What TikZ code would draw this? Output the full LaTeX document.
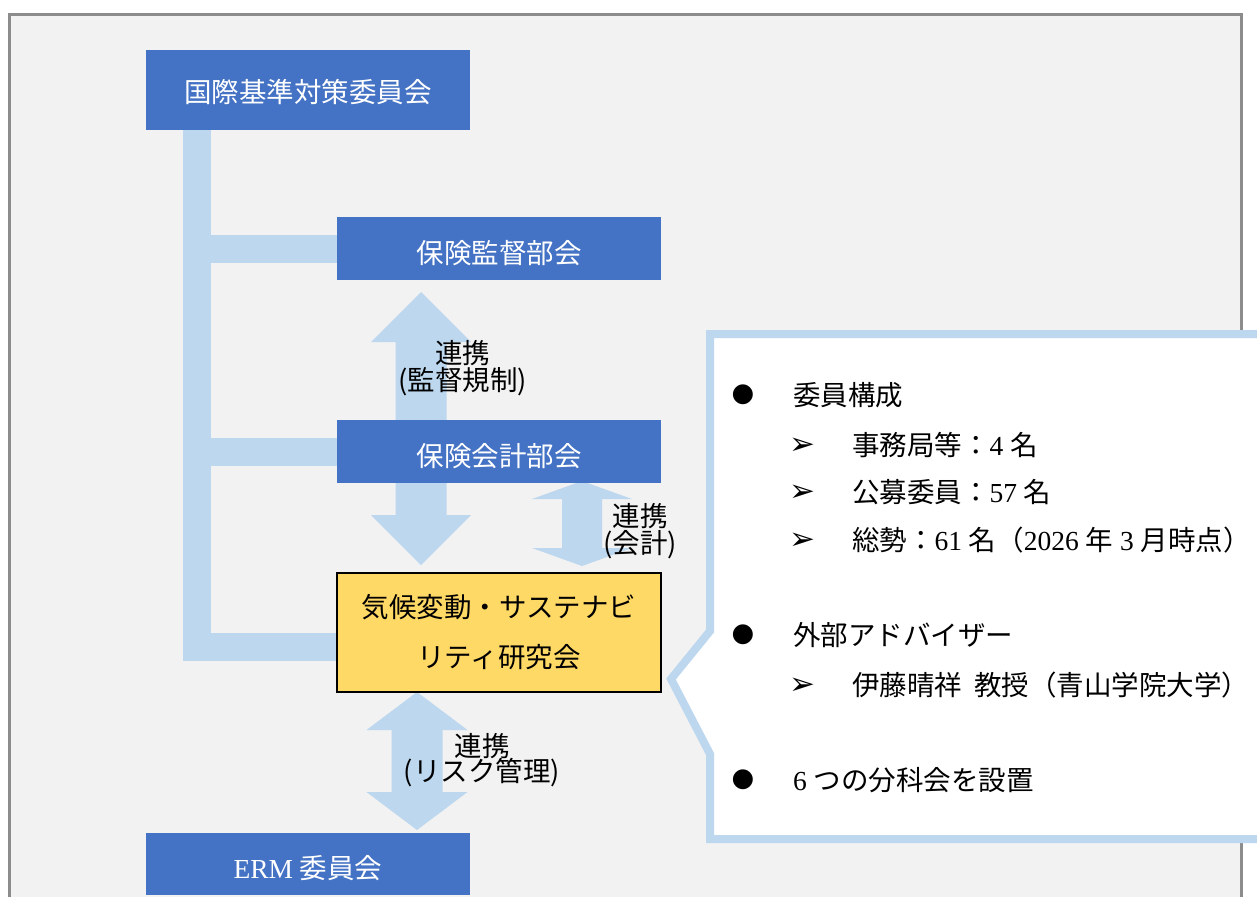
\documentclass[tikz,border=0pt]{standalone}
\usepackage{fontspec}
\setmainfont{Noto Sans CJK JP}
\newfontfamily\tnr{Liberation Serif}
\newfontfamily\symf{DejaVu Sans}
\newcommand\tn[1]{{\tnr #1}}
\usetikzlibrary{calc}
\definecolor{boxblue}{HTML}{4472C4}
\definecolor{barblue}{HTML}{BDD7EE}
\definecolor{ylw}{HTML}{FFD966}
\definecolor{bgfill}{HTML}{F2F2F2}
\definecolor{framegray}{HTML}{8C8C8C}
\pgfdeclarelayer{background}
\pgfsetlayers{background,main}
\begin{document}
\begin{tikzpicture}[x=1pt,y=-1pt,
  every node/.style={inner sep=0pt, outer sep=0pt},
  bluebox/.style={fill=boxblue, text=white, minimum width=324pt,
    font=\fontsize{27.5}{27.5}\selectfont, text height=29.5pt, text depth=0pt},
  ylwbox/.style={fill=ylw, draw=black, line width=2.5pt, minimum width=324pt,
    minimum height=119pt, align=center, font=\fontsize{27.5}{50}\selectfont},
  lbl/.style={align=center, font=\fontsize{27.5}{27}\selectfont},
  itm/.style={anchor=west, font=\fontsize{27.5}{27.5}\selectfont,
    text height=24.2pt, text depth=3.3pt},
  bul/.style={font=\symf\fontsize{26}{26}\selectfont},
  sarr/.style={font=\symf\fontsize{31}{31}\selectfont},
  bar/.style={draw=barblue, line width=28pt},
  dbl/.style n args={3}{fill=barblue, draw=none, to path={
    let \p1=(\tikztostart), \p2=(\tikztotarget) in
    -- (\x1+#1,\y1-#3) -- (\x1+#2,\y1-#3) -- (\x1+#2,\y2+#3) -- (\x1+#1,\y2+#3)
    -- (\x1,\y2) -- (\x1-#1,\y2+#3) -- (\x1-#2,\y2+#3) -- (\x1-#2,\y1-#3)
    -- (\x1-#1,\y1-#3) -- cycle}},
  frame/.style={draw=framegray, line width=3pt}
]
\lineskiplimit=-100pt
\useasboundingbox (0,0) rectangle (1257,897);

% boxes
\node[bluebox, minimum height=80pt, text height=25pt] (intl) at (308,90) {国際基準対策委員会};
\node[bluebox, minimum height=63pt] (kantoku) at (499,248.5) {保険監督部会};
\node[bluebox, minimum height=63pt] (kaikei) at (499,451.5) {保険会計部会};
\node[ylwbox] (climate) at (499,632.5) {気候変動・サステナビ\\リティ研究会};
\node[bluebox, minimum height=62pt, text height=28pt] (erm) at (308,864) {\tn{ERM }委員会};

% connector anchors
\coordinate (sp) at ([xshift=51pt]intl.south west);
\coordinate (a1t) at ([xshift=-78pt,yshift=-12pt]kantoku.south);
\coordinate (a1b) at ([xshift=-78pt,yshift=8pt]climate.north);
\coordinate (a2t) at ([xshift=83pt,yshift=2pt]kaikei.south);
\coordinate (a2b) at ([xshift=83pt,yshift=7pt]climate.north);
\coordinate (a3t) at ([xshift=-82pt]climate.south);
\coordinate (a3b) at ([xshift=109pt,yshift=3pt]erm.north);

\begin{pgfonlayer}{background}
  \fill[white] (0,0) rectangle (1257,897);
  \fill[bgfill] (9.5,14) rectangle (1241,897);
  \draw[frame] (9.5,897) -- (9.5,14) -- (1241,14) -- (1241,897);
  \draw[bar] (sp) |- ([yshift=-14.5pt]climate.west);
  \draw[bar] (kantoku.west) -- (kantoku.west -| sp);
  \draw[bar] (kaikei.west) -- (kaikei.west -| sp);
  \path[dbl={50pt}{25.5pt}{50pt}] (a1t) to (a1b);
  \path[dbl={50pt}{20pt}{18pt}] (a2t) to (a2b);
  \path[dbl={50.5pt}{25.5pt}{38pt}] (a3t) to (a3b);
\end{pgfonlayer}

% connector labels
\node[lbl] (l1) at (462.5,368.5) {連携\\(監督規制)};
\node[lbl] (l2) at (640,531.5) {連携\\(会計)};
\node[lbl, font=\fontsize{27.5}{25}\selectfont] (l3) at (482,760.5) {連携\\(リスク管理)};

% callout
\draw[draw=barblue, line width=8pt, fill=white, miter limit=10]
  (1257,334) -- (710,334) -- (710,631) -- (671,679) -- (710,754) -- (710,839) -- (1257,839);

\node[bul] (bu1) at (743,395) {●};
\node[itm] (t1) at (793,395) {委員構成};
\node[sarr] (s1) at (802.5,446) {➢};
\node[itm] (t2) at (852,445) {事務局等：\tn{4 }名};
\node[sarr] (s2) at (802.5,493) {➢};
\node[itm] (t3) at (852,492) {公募委員：\tn{57 }名};
\node[sarr] (s3) at (802.5,541) {➢};
\node[itm] (t4) at (852,540) {総勢：\tn{61 }名（\tn{2026 }年\tn{ 3 }月時点）};
\node[bul] (bu2) at (743,635) {●};
\node[itm] (t5) at (793,635) {外部アドバイザー};
\node[sarr] (s4) at (802.5,686) {➢};
\node[itm] (t6) at (852,685) {伊藤晴祥\hspace{12pt}教授（青山学院大学）};
\node[bul] (bu3) at (743,780) {●};
\node[itm] (t7) at (793,780) {\tn{6 }つの分科会を設置};
\end{tikzpicture}
\end{document}
